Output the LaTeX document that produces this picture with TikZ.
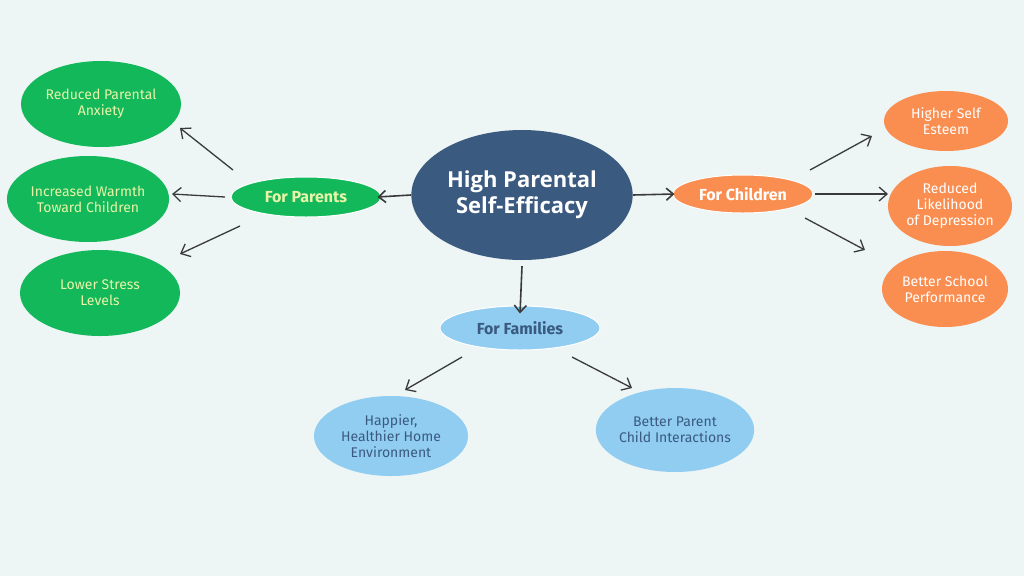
\documentclass[tikz,border=0pt]{standalone}
\usepackage{fontspec}
\setmainfont{Fira Sans}
\newfontfamily\titlefont{Open Sans}
\usetikzlibrary{arrows.meta}
\definecolor{bg}{HTML}{EDF5F5}
\definecolor{navy}{HTML}{3B5A80}
\definecolor{grn}{HTML}{12B859}
\definecolor{grntxt}{HTML}{E8F5A8}
\definecolor{org}{HTML}{F98E50}
\definecolor{lblue}{HTML}{90CDF1}
\definecolor{arr}{HTML}{3A3A3A}
\begin{document}
\begin{tikzpicture}[x=1pt,y=-1pt,
  leaf/.style={ellipse,inner sep=0pt,align=center,font=\fontsize{14}{16}\selectfont},
  gleaf/.style={leaf,fill=grn,text=grntxt,minimum width=160,minimum height=86},
  oleaf/.style={leaf,fill=org,text=white,minimum width=124},
  bleaf/.style={leaf,fill=lblue,text=navy},
  hub/.style={ellipse,inner sep=0pt,font=\fontsize{16}{18}\selectfont\bfseries},
  con/.style={draw=arr,line width=1.6pt,-{Straight Barb[length=7pt,width=12pt]}},
  ocon/.style={draw=arr,line width=1.3pt,-{Straight Barb[length=8pt,width=14pt]}}]
\usetikzlibrary{shapes.geometric}
\fill[bg] (0,0) rectangle (1024,576);
\node[ellipse,fill=navy,minimum width=212,minimum height=130,text=white,align=center,
  font=\titlefont\fontsize{22}{26}\selectfont\bfseries] (c) at (522,195) {High Parental\\Self-Efficacy};
\node[hub,fill=grn,text=grntxt,draw=white,line width=1pt,minimum width=150,minimum height=40] (p) at (306,197) {For Parents};
\node[hub,fill=org,text=white,draw=white,line width=1pt,minimum width=140,minimum height=38] (k) at (743,194) {For Children};
\node[hub,fill=lblue,text=navy,draw=white,line width=1pt,minimum width=160,minimum height=44] (f) at (520,328) {For Families};
\node[gleaf] (p1) at (101,104) {Reduced Parental\\Anxiety};
\node[gleaf] (p2) at (88,199) {Increased Warmth\\Toward Children};
\node[gleaf] (p3) at (100,293) {Lower Stress\\Levels};
\node[oleaf,minimum height=60] (k1) at (946,121) {Higher Self\\Esteem};
\node[oleaf,minimum height=80] (k2) at (950,206) {Reduced\\Likelihood\\of Depression};
\node[oleaf,minimum height=76,minimum width=126] (k3) at (945,289) {Better School\\Performance};
\node[bleaf,minimum width=154,minimum height=80] (f1) at (391,436) {Happier,\\Healthier Home\\Environment};
\node[bleaf,minimum width=150,minimum height=84] (f2) at (675,430) {Better Parent\\Child Interactions};
\draw[con] (c.180) -- ([xshift=-4]p.east);
\draw[con] (c.0) -- ([xshift=2]k.west);
\draw[con] ([yshift=-6]c.south) -- ([yshift=-8]f.north);
\draw[ocon] ([shift={(-73,-27)}]p.center) -- ([shift={(-126,-69)}]p.center);
\draw[ocon] ([shift={(-81,0)}]p.center) -- ([shift={(-134,-3)}]p.center);
\draw[ocon] ([shift={(-66,29)}]p.center) -- ([shift={(-126,57)}]p.center);
\draw[ocon] ([shift={(67,-24)}]k.center) -- ([shift={(129,-58)}]k.center);
\draw[ocon] ([shift={(72,0)}]k.center) -- ([shift={(145,0)}]k.center);
\draw[ocon] ([shift={(62,24)}]k.center) -- ([shift={(122,56)}]k.center);
\draw[ocon] ([shift={(-58,29)}]f.center) -- ([shift={(-115,62)}]f.center);
\draw[ocon] ([shift={(52,29)}]f.center) -- ([shift={(112,60)}]f.center);
\end{tikzpicture}
\end{document}
